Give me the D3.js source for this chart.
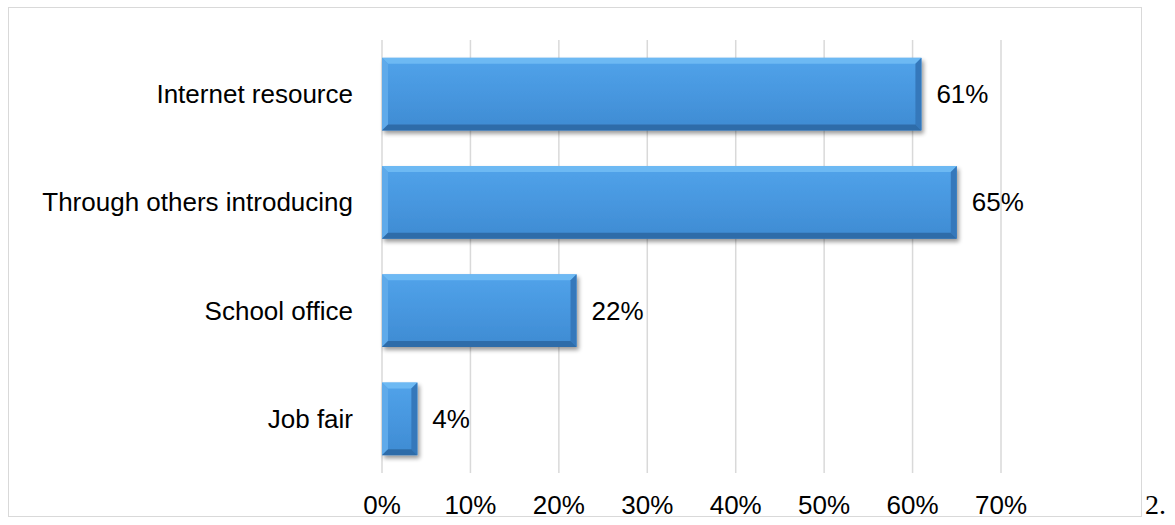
<!DOCTYPE html>
<html>
<head>
<meta charset="utf-8">
<script src="https://cdn.jsdelivr.net/npm/d3@7"></script>
<style>
  html, body { margin: 0; padding: 0; background: #fff; }
  svg { display: block; }
  text { font-family: Arial, "Liberation Sans", sans-serif; fill: #000; }
</style>
</head>
<body>
<svg id="chart" width="1175" height="525"></svg>
<script>
// Channels through which respondents found their jobs
const categories = ["Internet resource", "Through others introducing", "School office", "Job fair"];
const shares = [0.61, 0.65, 0.22, 0.04];
const tickValues = [0, 0.1, 0.2, 0.3, 0.4, 0.5, 0.6, 0.7];

const svg = d3.select("#chart");
const fmt = d3.format(".0%");
const fontSize = 26;

const plot = { left: 382, right: 1001, top: 40, bottom: 473 };

const x = d3.scaleLinear().domain([0, 0.7]).range([plot.left, plot.right]);
const y = d3.scaleBand().domain(categories).range([plot.top, plot.bottom])
  .paddingInner(0.33).paddingOuter(0.165);

const defs = svg.append("defs");
const body = defs.append("linearGradient").attr("id", "barBody")
  .attr("x1", 0).attr("y1", 0).attr("x2", 0).attr("y2", 1);
body.append("stop").attr("offset", "0%").attr("stop-color", "#52a3ea");
body.append("stop").attr("offset", "50%").attr("stop-color", "#4797df");
body.append("stop").attr("offset", "100%").attr("stop-color", "#3f8bd2");

const shadow = defs.append("filter").attr("id", "barShadow")
  .attr("x", "-10%").attr("y", "-20%").attr("width", "130%").attr("height", "160%");
shadow.append("feGaussianBlur").attr("in", "SourceAlpha").attr("stdDeviation", 2).attr("result", "b");
shadow.append("feOffset").attr("in", "b").attr("dx", 2).attr("dy", 3).attr("result", "o");
shadow.append("feComponentTransfer").attr("in", "o").attr("result", "s")
  .append("feFuncA").attr("type", "linear").attr("slope", 0.4);
const merge = shadow.append("feMerge");
merge.append("feMergeNode").attr("in", "s");
merge.append("feMergeNode").attr("in", "SourceGraphic");

// Chart frame
svg.append("rect").attr("x", 8.5).attr("y", 7.5).attr("width", 1133).attr("height", 509)
  .attr("fill", "none").attr("stroke", "#d9d9d9");

// Vertical gridlines
svg.append("g").selectAll("line").data(tickValues).join("line")
  .attr("x1", d => x(d)).attr("x2", d => x(d))
  .attr("y1", plot.top).attr("y2", plot.bottom)
  .attr("stroke", "#d9d9d9").attr("stroke-width", 1.5);

// Bars with bevelled edges
const bev = 6;
const bars = svg.append("g").selectAll("g").data(categories).join("g")
  .attr("filter", "url(#barShadow)");

bars.each(function (c, i) {
  const g = d3.select(this);
  const x0 = x(0), x1 = x(shares[i]);
  const y0 = y(c), y1 = y(c) + y.bandwidth();
  const b = Math.min(bev, (x1 - x0) / 2);
  g.append("rect").attr("x", x0).attr("y", y0).attr("width", x1 - x0).attr("height", y1 - y0)
    .attr("fill", "url(#barBody)");
  const poly = (pts, fill) => g.append("polygon")
    .attr("points", pts.map(p => p.join(",")).join(" ")).attr("fill", fill);
  // top bevel
  poly([[x0, y0], [x1, y0], [x1 - b, y0 + b], [x0 + b, y0 + b]], "#6db9f3");
  // left bevel
  poly([[x0, y0], [x0 + b, y0 + b], [x0 + b, y1 - b], [x0, y1]], "#5eaaea");
  // right bevel
  poly([[x1, y0], [x1, y1], [x1 - b, y1 - b], [x1 - b, y0 + b]], "#3478bb");
  // bottom bevel
  poly([[x0, y1], [x0 + b, y1 - b], [x1 - b, y1 - b], [x1, y1]], "#2f6ca9");
});

// Value labels
svg.append("g").selectAll("text").data(categories).join("text")
  .attr("x", (c, i) => x(shares[i]) + 15)
  .attr("y", c => y(c) + y.bandwidth() / 2)
  .attr("dy", "0.35em")
  .attr("font-size", fontSize)
  .text((c, i) => fmt(shares[i]));

// Category labels
svg.append("g").selectAll("text").data(categories).join("text")
  .attr("x", 353)
  .attr("y", c => y(c) + y.bandwidth() / 2)
  .attr("dy", "0.35em")
  .attr("text-anchor", "end")
  .attr("font-size", fontSize)
  .text(c => c);

// Horizontal axis labels
svg.append("g").selectAll("text").data(tickValues).join("text")
  .attr("x", d => x(d))
  .attr("y", 514)
  .attr("text-anchor", "middle")
  .attr("font-size", fontSize)
  .text(d => fmt(d));

// Trailing text after the frame
svg.append("text").attr("x", 1145).attr("y", 514)
  .style("font-family", "'Liberation Serif', 'Times New Roman', serif")
  .attr("font-size", 28).text("2.");
</script>
</body>
</html>
